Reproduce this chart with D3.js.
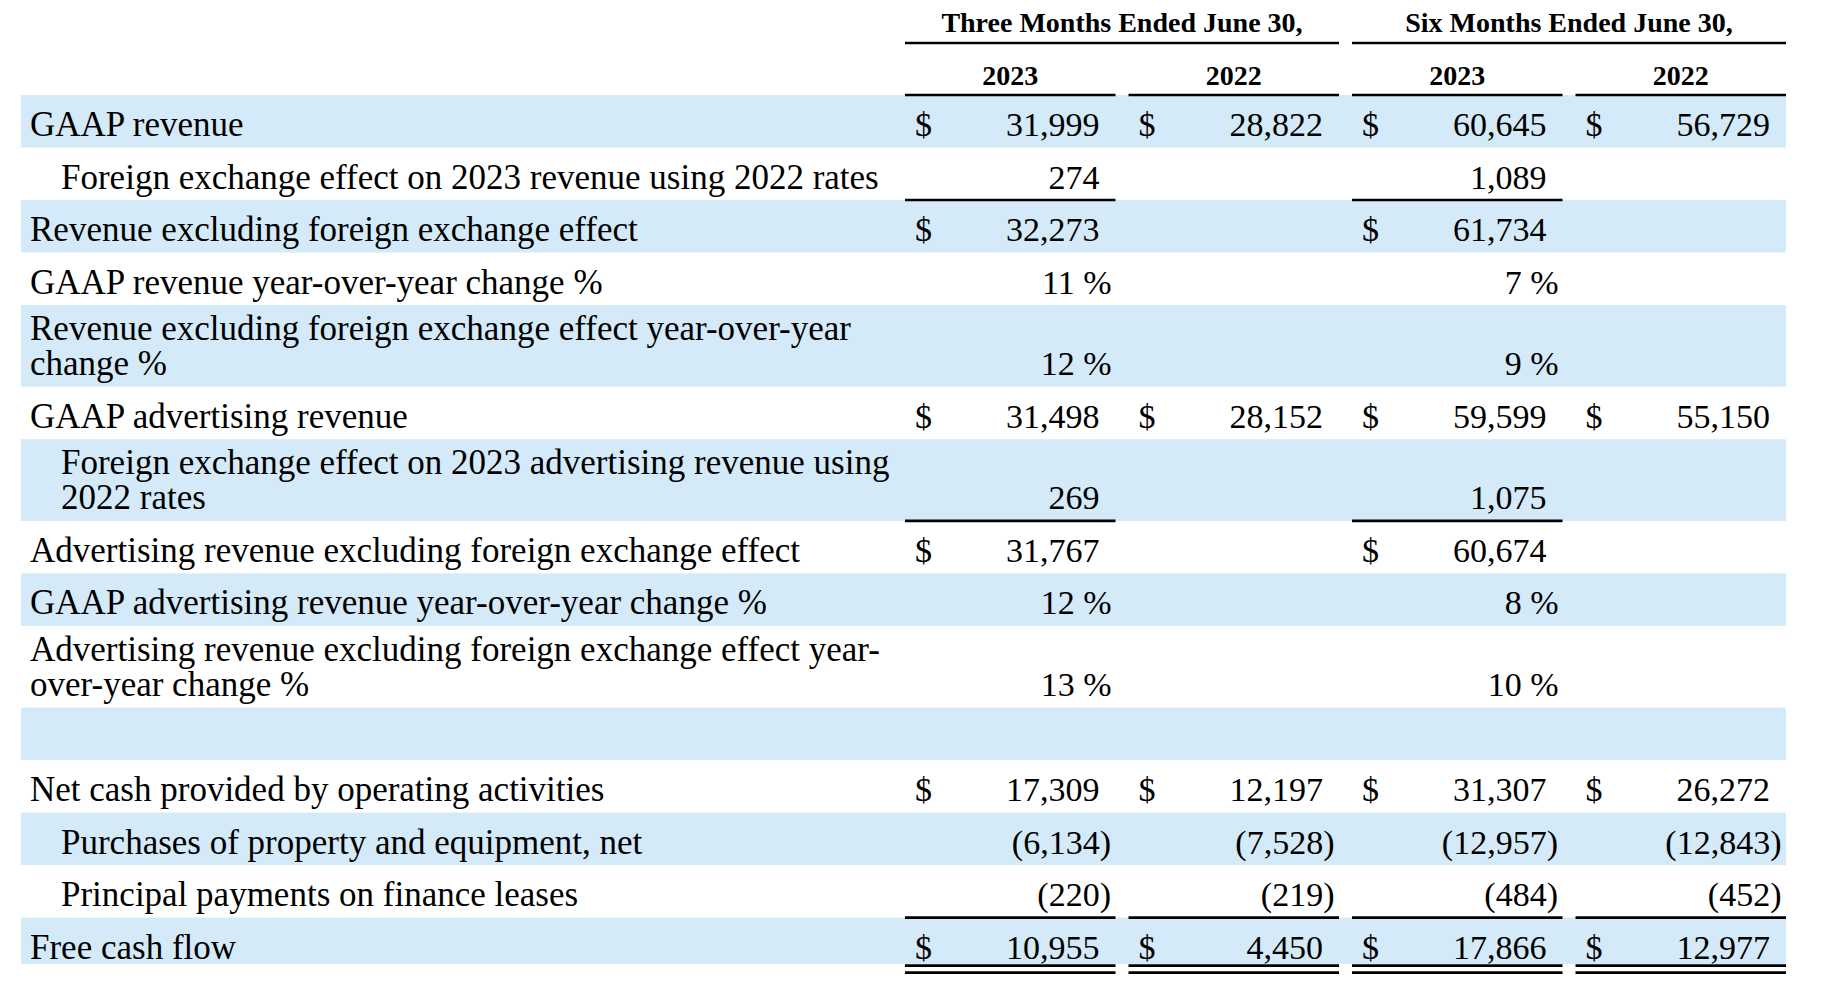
<!DOCTYPE html>
<html>
<head>
<meta charset="utf-8">
<script src="https://cdn.jsdelivr.net/npm/d3@7/dist/d3.min.js"></script>
<style>
  html, body { margin: 0; padding: 0; background: #ffffff; }
  svg { display: block; }
  text { font-family: "Liberation Serif", "Times New Roman", serif; fill: #000; }
</style>
</head>
<body>
<svg id="chart" width="1830" height="1008"></svg>
<script>
// ---------------- data ----------------
const periodHeaders = ["Three Months Ended June 30,", "Six Months Ended June 30,"];
const columnYears = ["2023", "2022", "2023", "2022"];
const columnKeys = ["q2023", "q2022", "h2023", "h2022"];

const rowLabels = [
  ["GAAP revenue"],
  ["Foreign exchange effect on 2023 revenue using 2022 rates"],
  ["Revenue excluding foreign exchange effect"],
  ["GAAP revenue year-over-year change %"],
  ["Revenue excluding foreign exchange effect year-over-year", "change %"],
  ["GAAP advertising revenue"],
  ["Foreign exchange effect on 2023 advertising revenue using", "2022 rates"],
  ["Advertising revenue excluding foreign exchange effect"],
  ["GAAP advertising revenue year-over-year change %"],
  ["Advertising revenue excluding foreign exchange effect year-", "over-year change %"],
  [""],
  ["Net cash provided by operating activities"],
  ["Purchases of property and equipment, net"],
  ["Principal payments on finance leases"],
  ["Free cash flow"]
];
const rowIndented = [false, true, false, false, false, false, true, false, false, false, false, false, true, true, false];
const rowKinds = ["usd", "num", "usd", "pct", "pct", "usd", "num", "usd", "pct", "pct", "blank", "usd", "num", "num", "usd"];

const threeMonths2023 = [31999, 274, 32273, 11, 12, 31498, 269, 31767, 12, 13, null, 17309, -6134, -220, 10955];
const threeMonths2022 = [28822, null, null, null, null, 28152, null, null, null, null, null, 12197, -7528, -219, 4450];
const sixMonths2023   = [60645, 1089, 61734, 7, 9, 59599, 1075, 60674, 8, 10, null, 31307, -12957, -484, 17866];
const sixMonths2022   = [56729, null, null, null, null, 55150, null, null, null, null, null, 26272, -12843, -452, 12977];

// rows with a single rule beneath them (per column index), and the total row
const ruleAfterRows = [
  { row: 1, cols: [0, 2] },
  { row: 6, cols: [0, 2] },
  { row: 13, cols: [0, 1, 2, 3] }
];
const totalRow = 14;

// ---------------- layout ----------------
const svg = d3.select("#chart");
const tableLeft = 21, tableRight = 1786;
const colStart = 905;
const singleH = 52.5, doubleH = 81.7;
const tableTop = 95;
const bandColor = "#d4eaf8";
const ruleW = 2.7;

const series = [threeMonths2023, threeMonths2022, sixMonths2023, sixMonths2022];

const x = d3.scaleBand().domain(columnKeys).range([colStart, tableRight]).paddingInner(0.0582).paddingOuter(0);

const heights = rowLabels.map(l => l.length > 1 ? doubleH : singleH);
const tops = [tableTop, ...Array.from(d3.cumsum(heights), v => tableTop + v)];
const y = d3.scaleOrdinal().domain(d3.range(rowLabels.length)).range(tops.slice(0, rowLabels.length));

const fmt = d3.format(",");

// bands
svg.append("g").selectAll("rect")
  .data(d3.range(rowLabels.length).filter(i => i % 2 === 0))
  .join("rect")
  .attr("x", tableLeft)
  .attr("y", i => y(i))
  .attr("width", tableRight - tableLeft)
  .attr("height", i => heights[i] - (i === totalRow ? 6 : 0))
  .attr("fill", bandColor);

// period headers
const periodCenters = [
  (x("q2023") + x("q2022") + x.bandwidth()) / 2,
  (x("h2023") + x("h2022") + x.bandwidth()) / 2
];
svg.append("g").selectAll("text")
  .data(periodHeaders)
  .join("text")
  .attr("x", (d, i) => periodCenters[i])
  .attr("y", 32)
  .attr("text-anchor", "middle")
  .attr("font-weight", "bold")
  .attr("font-size", 28)
  .text(d => d);

svg.append("g").selectAll("line")
  .data([["q2023", "q2022"], ["h2023", "h2022"]])
  .join("line")
  .attr("x1", d => x(d[0]))
  .attr("x2", d => x(d[1]) + x.bandwidth())
  .attr("y1", 43).attr("y2", 43)
  .attr("stroke", "#000").attr("stroke-width", ruleW);

// year headers
svg.append("g").selectAll("text")
  .data(columnKeys)
  .join("text")
  .attr("x", d => x(d) + x.bandwidth() / 2)
  .attr("y", 85)
  .attr("text-anchor", "middle")
  .attr("font-weight", "bold")
  .attr("font-size", 28)
  .text((d, i) => columnYears[i]);

svg.append("g").selectAll("line")
  .data(columnKeys)
  .join("line")
  .attr("x1", d => x(d))
  .attr("x2", d => x(d) + x.bandwidth())
  .attr("y1", 95).attr("y2", 95)
  .attr("stroke", "#000").attr("stroke-width", ruleW);

// row labels
const labelG = svg.append("g").attr("font-size", 35);
rowLabels.forEach((lines, i) => {
  const top = y(i);
  lines.forEach((ln, j) => {
    if (!ln) return;
    const base = lines.length > 1 ? top + 35 + j * 35 : top + 41;
    labelG.append("text")
      .attr("x", rowIndented[i] ? 61 : 30)
      .attr("y", base)
      .text(ln);
  });
});

// values
const valG = svg.append("g").attr("font-size", 34);
series.forEach((vals, c) => {
  const key = columnKeys[c];
  const left = x(key), right = x(key) + x.bandwidth();
  vals.forEach((v, i) => {
    if (v === null || v === undefined) return;
    const kind = rowKinds[i];
    const base = y(i) + heights[i] - 11.5;
    if (kind === "usd") {
      valG.append("text").attr("x", left + 10).attr("y", base).text("$");
    }
    if (kind === "pct") {
      valG.append("text").attr("x", right - 4).attr("y", base)
        .attr("text-anchor", "end").text(fmt(v) + " %");
    } else if (v < 0) {
      valG.append("text").attr("x", right - 4.5).attr("y", base)
        .attr("text-anchor", "end").text("(" + fmt(-v) + ")");
    } else {
      valG.append("text").attr("x", right - 16).attr("y", base)
        .attr("text-anchor", "end").text(fmt(v));
    }
  });
});

// rules inside the table
const ruleG = svg.append("g").attr("stroke", "#000").attr("stroke-width", ruleW);
ruleAfterRows.forEach(r => {
  const yy = y(r.row) + heights[r.row];
  r.cols.forEach(c => {
    const k = columnKeys[c];
    ruleG.append("line")
      .attr("x1", x(k)).attr("x2", x(k) + x.bandwidth())
      .attr("y1", yy).attr("y2", yy);
  });
});
// double rule under the total row
const totalBottom = y(totalRow) + heights[totalRow];
[totalBottom - 4.5, totalBottom + 2.5].forEach(yy => {
  columnKeys.forEach(k => {
    ruleG.append("line")
      .attr("x1", x(k)).attr("x2", x(k) + x.bandwidth())
      .attr("y1", yy).attr("y2", yy);
  });
});
</script>
</body>
</html>
